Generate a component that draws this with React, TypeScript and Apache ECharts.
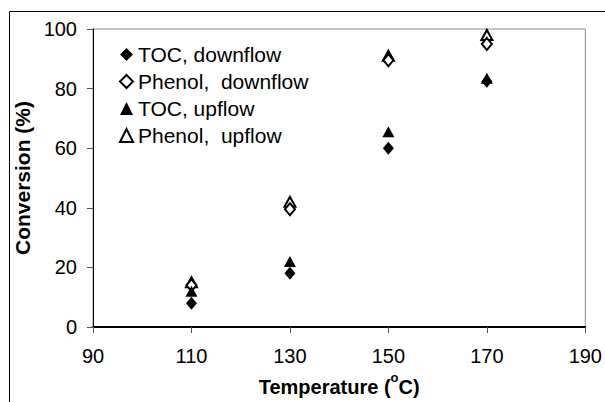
import React, { useEffect, useRef } from "react";
import * as echarts from "echarts";

// Reaction temperature (°C)
const temperatures = [110, 130, 150, 170];
// Conversion (%) for each run
const tocDownflow = [8, 18, 60, 82.5];
const phenolDownflow = [14, 39.5, 89.5, 95];
const tocUpflow = [12, 22, 65.5, 83.5];
const phenolUpflow = [15, 42, 91, 98];

const seriesNames = [
  "TOC, downflow",
  "Phenol,  downflow",
  "TOC, upflow",
  "Phenol,  upflow",
];
const xTicks = { min: 90, max: 190, interval: 20 };
const yTicks = { min: 0, max: 100, interval: 20 };

const FONT = "'Liberation Sans', Arial, sans-serif";

function pairs(values: number[]) {
  return temperatures.map((t, i) => [t, values[i]]);
}

export default function App() {
  const ref = useRef<HTMLDivElement>(null);

  useEffect(() => {
    if (!ref.current) return;
    const chart = echarts.init(ref.current, undefined, { renderer: "svg" });

    const filled = { color: "#000", borderWidth: 0, opacity: 1 };
    const hollow = { color: "#000", borderColor: "#000", borderWidth: 2, opacity: 1 };

    chart.setOption({
      animation: false,
      backgroundColor: "#fff",
      textStyle: { fontFamily: FONT, color: "#000" },
      grid: {
        left: 93,
        top: 29,
        right: 14,
        bottom: 73,
        show: true,
        borderColor: "#8a8a8a",
        borderWidth: 1,
        backgroundColor: "transparent",
      },
      graphic: [
        {
          type: "rect",
          shape: { x: 9.5, y: 11.5, width: 700, height: 500 },
          style: { fill: "none", stroke: "#000", lineWidth: 1 },
          silent: true,
          z: -1,
        },
      ],
      legend: {
        orient: "vertical",
        left: 114,
        top: 39,
        itemWidth: 13,
        itemHeight: 13,
        itemGap: 6,
        data: seriesNames,
        textStyle: {
          fontFamily: FONT,
          fontSize: 21,
          lineHeight: 20,
          color: "#000",
        },
      },
      xAxis: {
        type: "value",
        min: xTicks.min,
        max: xTicks.max,
        interval: xTicks.interval,
        name: "{t|Temperature (}{s|o}{t|C)}",
        nameLocation: "middle",
        nameGap: 44,
        nameTextStyle: {
          rich: {
            t: {
              fontFamily: FONT,
              fontSize: 20,
              fontWeight: "bold",
              color: "#000",
              lineHeight: 26,
              verticalAlign: "bottom",
            },
            s: {
              fontFamily: FONT,
              fontSize: 13,
              fontWeight: "bold",
              color: "#000",
              lineHeight: 13,
              verticalAlign: "top",
            },
          },
        },
        splitLine: { show: false },
        axisLine: { lineStyle: { color: "#000", width: 2 } },
        axisTick: { length: 6, lineStyle: { color: "#555", width: 1 } },
        axisLabel: {
          margin: 19,
          fontFamily: FONT,
          fontSize: 20,
          color: "#000",
        },
      },
      yAxis: {
        type: "value",
        min: yTicks.min,
        max: yTicks.max,
        interval: yTicks.interval,
        name: "Conversion (%)",
        nameLocation: "middle",
        nameGap: 56,
        nameTextStyle: {
          fontFamily: FONT,
          fontSize: 21,
          fontWeight: "bold",
          color: "#000",
        },
        splitLine: { show: false },
        axisLine: { show: true, lineStyle: { color: "#000", width: 1 } },
        axisTick: { show: true, length: 6, lineStyle: { color: "#555", width: 1 } },
        axisLabel: {
          margin: 16,
          fontFamily: FONT,
          fontSize: 20,
          color: "#000",
        },
      },
      series: [
        {
          name: seriesNames[0],
          type: "scatter",
          symbol: "diamond",
          symbolSize: [11, 13],
          itemStyle: filled,
          data: pairs(tocDownflow),
          z: 4,
        },
        {
          name: seriesNames[1],
          type: "scatter",
          symbol: "emptyDiamond",
          symbolSize: [10, 12],
          itemStyle: hollow,
          data: pairs(phenolDownflow),
          z: 3,
        },
        {
          name: seriesNames[2],
          type: "scatter",
          symbol: "triangle",
          symbolSize: [12, 11],
          itemStyle: filled,
          data: pairs(tocUpflow),
          z: 4,
        },
        {
          name: seriesNames[3],
          type: "scatter",
          symbol: "emptyTriangle",
          symbolSize: [11, 10],
          itemStyle: hollow,
          data: pairs(phenolUpflow),
          z: 2,
        },
      ],
    });

    return () => chart.dispose();
  }, []);

  return (
    <div
      ref={ref}
      style={{ position: "fixed", left: 0, top: 0, width: 605, height: 402 }}
    />
  );
}
